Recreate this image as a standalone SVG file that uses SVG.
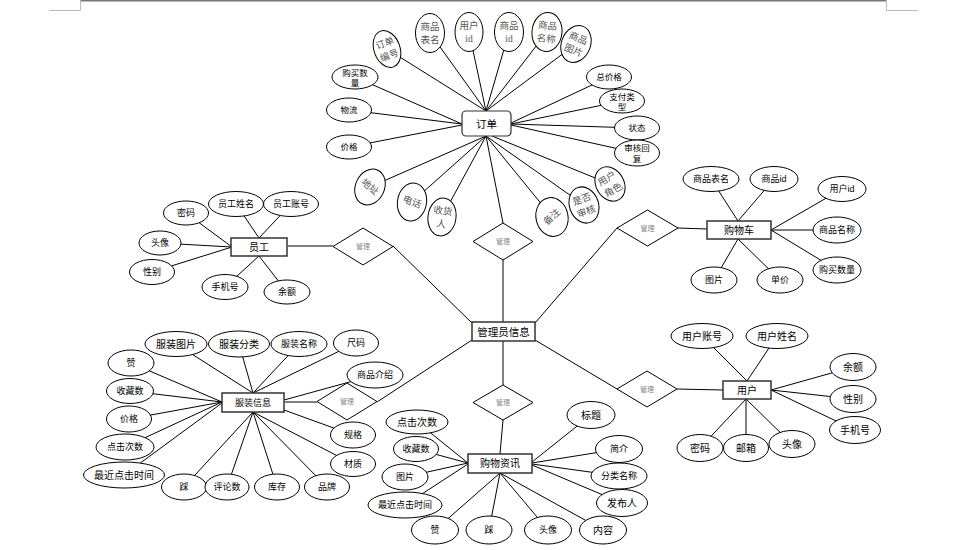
<svg xmlns="http://www.w3.org/2000/svg" width="959" height="550" viewBox="0 0 959 550">
<style>
.c line{stroke:#000;stroke-width:1}
.a{fill:#fff;stroke:#000;stroke-width:1}
.e{fill:#fff;stroke:#333;stroke-width:1.5}
.d{fill:#fff;stroke:#000;stroke-width:1}
text{font-family:"Liberation Sans","Noto Sans CJK SC",sans-serif;text-anchor:middle;dominant-baseline:central;fill:#000}
.t{font-size:10px}
.t9{font-size:9px}
.t8{font-size:8.5px}
.s{font-family:"Liberation Serif","Noto Sans CJK SC",serif;font-size:9.5px;fill:#555}
.m{font-size:7px;fill:#888}
.en{font-size:10.5px}
.pg{stroke:#777;stroke-width:1.5}
.pc{stroke:#bbb;stroke-width:1}
</style>
<g id="page">
<line class="pg" x1="80" y1="0.75" x2="886" y2="0.75"/>
<line class="pc" x1="49" y1="10.5" x2="80.5" y2="10.5"/>
<line class="pc" x1="80.5" y1="0" x2="80.5" y2="10.5"/>
<line class="pc" x1="886.5" y1="0" x2="886.5" y2="10.5"/>
<line class="pc" x1="886.5" y1="10.5" x2="918" y2="10.5"/>
</g>
<g id="connectors" class="c">
<line x1="486" y1="111" x2="387" y2="49"/>
<line x1="486" y1="111" x2="430" y2="33"/>
<line x1="486" y1="111" x2="469" y2="32"/>
<line x1="486" y1="111" x2="509" y2="32"/>
<line x1="486" y1="111" x2="547" y2="32"/>
<line x1="486" y1="111" x2="576" y2="44"/>
<line x1="511" y1="123" x2="609" y2="77"/>
<line x1="511" y1="124" x2="622" y2="101"/>
<line x1="511" y1="124" x2="637" y2="128"/>
<line x1="511" y1="125" x2="637" y2="153"/>
<line x1="462" y1="124" x2="355" y2="77"/>
<line x1="462" y1="124" x2="349" y2="110"/>
<line x1="462" y1="125" x2="349" y2="147"/>
<line x1="486" y1="136" x2="370" y2="187"/>
<line x1="486" y1="136" x2="412" y2="202"/>
<line x1="486" y1="136" x2="442" y2="217"/>
<line x1="486" y1="136" x2="552" y2="217"/>
<line x1="486" y1="136" x2="584" y2="205"/>
<line x1="492" y1="136" x2="610" y2="184"/>
<line x1="486" y1="136" x2="503" y2="223"/>
<line x1="503" y1="260" x2="503" y2="322"/>
<line x1="288" y1="246" x2="333" y2="246"/>
<line x1="393" y1="246" x2="472" y2="323"/>
<line x1="617" y1="228" x2="535" y2="323"/>
<line x1="678" y1="228" x2="707" y2="229"/>
<line x1="285" y1="402" x2="317" y2="402"/>
<line x1="377" y1="402" x2="472" y2="340"/>
<line x1="503" y1="341" x2="503" y2="385"/>
<line x1="503" y1="420" x2="500" y2="454"/>
<line x1="617" y1="389" x2="535" y2="340"/>
<line x1="677" y1="389" x2="723" y2="390"/>
<line x1="259" y1="238" x2="236" y2="204"/>
<line x1="259" y1="238" x2="291" y2="204"/>
<line x1="232" y1="247" x2="186" y2="213"/>
<line x1="232" y1="247" x2="160" y2="243"/>
<line x1="232" y1="247" x2="152" y2="272"/>
<line x1="259" y1="256" x2="225" y2="287"/>
<line x1="259" y1="256" x2="287" y2="292"/>
<line x1="738" y1="221" x2="711" y2="179"/>
<line x1="738" y1="221" x2="774" y2="179"/>
<line x1="771" y1="230" x2="842" y2="189"/>
<line x1="771" y1="230" x2="837" y2="230"/>
<line x1="771" y1="230" x2="837" y2="270"/>
<line x1="738" y1="239" x2="714" y2="280"/>
<line x1="738" y1="239" x2="780" y2="280"/>
<line x1="253" y1="393" x2="176" y2="344"/>
<line x1="253" y1="393" x2="239" y2="344"/>
<line x1="253" y1="393" x2="299" y2="344"/>
<line x1="253" y1="393" x2="356" y2="343"/>
<line x1="284" y1="400" x2="375" y2="375"/>
<line x1="222" y1="402" x2="131" y2="363"/>
<line x1="222" y1="402" x2="130" y2="391"/>
<line x1="222" y1="402" x2="129" y2="419"/>
<line x1="222" y1="402" x2="125" y2="447"/>
<line x1="222" y1="403" x2="124" y2="475"/>
<line x1="253" y1="412" x2="184" y2="487"/>
<line x1="253" y1="412" x2="227" y2="487"/>
<line x1="253" y1="412" x2="277" y2="487"/>
<line x1="253" y1="412" x2="327" y2="487"/>
<line x1="284" y1="410" x2="353" y2="435"/>
<line x1="253" y1="412" x2="353" y2="464"/>
<line x1="468" y1="463" x2="417" y2="422"/>
<line x1="468" y1="463" x2="416" y2="449"/>
<line x1="468" y1="463" x2="405" y2="477"/>
<line x1="468" y1="464" x2="405" y2="505"/>
<line x1="500" y1="473" x2="435" y2="530"/>
<line x1="500" y1="473" x2="489" y2="530"/>
<line x1="500" y1="473" x2="548" y2="530"/>
<line x1="500" y1="473" x2="603" y2="530"/>
<line x1="532" y1="462" x2="591" y2="415"/>
<line x1="532" y1="463" x2="619" y2="449"/>
<line x1="532" y1="464" x2="619" y2="476"/>
<line x1="532" y1="465" x2="622" y2="503"/>
<line x1="747" y1="381" x2="702" y2="336"/>
<line x1="747" y1="381" x2="777" y2="336"/>
<line x1="771" y1="390" x2="853" y2="367"/>
<line x1="771" y1="390" x2="853" y2="399"/>
<line x1="771" y1="390" x2="855" y2="430"/>
<line x1="746" y1="399" x2="700" y2="448"/>
<line x1="746" y1="399" x2="746" y2="448"/>
<line x1="746" y1="399" x2="792" y2="444"/>
</g>

<g id="order">
<rect class="e" x="462" y="111" width="49" height="25" rx="4" style="stroke-width:1.2"/>
<text class="en" x="486.5" y="124">订单</text>
</g>
<g id="order-attrs">
<g transform="translate(387,49) rotate(-20)"><ellipse class="a" rx="13" ry="19"/><text class="s" y="-6">订单</text><text class="s" y="7">编号</text></g>
<g transform="translate(430,33)"><ellipse class="a" rx="14.5" ry="19.5"/><text class="s" y="-6">商品</text><text class="s" y="7">表名</text></g>
<g transform="translate(469,32)"><ellipse class="a" rx="14" ry="19.5"/><text class="s" y="-6">用户</text><text class="s" y="7">id</text></g>
<g transform="translate(509,32)"><ellipse class="a" rx="14.5" ry="19.5"/><text class="s" y="-6">商品</text><text class="s" y="7">id</text></g>
<g transform="translate(547,32) rotate(6)"><ellipse class="a" rx="15" ry="19.5"/><text class="s" y="-6">商品</text><text class="s" y="7">名称</text></g>
<g transform="translate(576,44) rotate(22)"><ellipse class="a" rx="14.5" ry="19"/><text class="s" y="-6">商品</text><text class="s" y="7">图片</text></g>
<g transform="translate(609,77)"><ellipse class="a" rx="22.5" ry="12"/><text class="t8">总价格</text></g>
<g transform="translate(622,101)"><ellipse class="a" rx="22.5" ry="12"/><text class="t8" y="-4.5">支付类</text><text class="t8" y="5.5">型</text></g>
<g transform="translate(637,128)"><ellipse class="a" rx="22.5" ry="12"/><text class="t8">状态</text></g>
<g transform="translate(637,153)"><ellipse class="a" rx="22.5" ry="13"/><text class="t8" y="-5">审核回</text><text class="t8" y="6">复</text></g>
<g transform="translate(355,77)"><ellipse class="a" rx="23" ry="12"/><text class="t8" y="-4.5">购买数</text><text class="t8" y="5.5">量</text></g>
<g transform="translate(349,110)"><ellipse class="a" rx="22.5" ry="12"/><text class="t8">物流</text></g>
<g transform="translate(349,147)"><ellipse class="a" rx="22.5" ry="12"/><text class="t8">价格</text></g>
<g transform="translate(370,187) rotate(25)"><ellipse class="a" rx="14.5" ry="18.5"/><text class="s" transform="rotate(15)">地址</text></g>
<g transform="translate(412,202) rotate(10)"><ellipse class="a" rx="14.5" ry="19"/><text class="s" transform="rotate(12)">电话</text></g>
<g transform="translate(442,217) rotate(8)"><ellipse class="a" rx="14" ry="19"/><text class="s" y="-6">收货</text><text class="s" y="7">人</text></g>
<g transform="translate(552,217) rotate(-12)"><ellipse class="a" rx="16" ry="19.5"/><text class="s" transform="rotate(-30)">备注</text></g>
<g transform="translate(584,205) rotate(-20)"><ellipse class="a" rx="14.5" ry="18.5"/><text class="s" y="-6">是否</text><text class="s" y="7">审核</text></g>
<g transform="translate(610,184) rotate(-30)"><ellipse class="a" rx="14" ry="18"/><text class="s" y="-6">用户</text><text class="s" y="7">角色</text></g>
</g>

<g id="admin">
<rect class="e" x="472" y="322" width="63" height="19"/>
<text class="en" x="503.5" y="331.5">管理员信息</text>
</g>
<g id="manage-order"><polygon class="d" points="503,223 533,241.5 503,260 473,241.5"/><text class="m" x="503" y="241.5">管理</text></g>
<g id="manage-employee"><polygon class="d" points="363,228 393,246.5 363,265 333,246.5"/><text class="m" x="363" y="246.5">管理</text></g>
<g id="manage-cart"><polygon class="d" points="647.5,210 678,228 647.5,246 617,228"/><text class="m" x="647.5" y="228">管理</text></g>
<g id="manage-clothing"><polygon class="d" points="347,383 377,401.5 347,420 317,401.5"/><text class="m" x="347" y="401.5">管理</text></g>
<g id="manage-info"><polygon class="d" points="503,385 533,402.5 503,420 473,402.5"/><text class="m" x="503" y="402.5">管理</text></g>
<g id="manage-user"><polygon class="d" points="647,371 677,389 647,407 617,389"/><text class="m" x="647" y="389">管理</text></g>

<g id="employee">
<rect class="e" x="231" y="238" width="56" height="18"/>
<text class="t" x="259" y="247">员工</text>
</g>
<g id="employee-attrs">
<g transform="translate(186,213)"><ellipse class="a" rx="22.5" ry="12"/><text class="t9">密码</text></g>
<g transform="translate(236,204)"><ellipse class="a" rx="27.5" ry="12.5"/><text class="t9">员工姓名</text></g>
<g transform="translate(291,204)"><ellipse class="a" rx="27.5" ry="12.5"/><text class="t9">员工账号</text></g>
<g transform="translate(160,243)"><ellipse class="a" rx="21" ry="12"/><text class="t9">头像</text></g>
<g transform="translate(152,272)"><ellipse class="a" rx="22.5" ry="12.5"/><text class="t9">性别</text></g>
<g transform="translate(225,287)"><ellipse class="a" rx="23" ry="12.5"/><text class="t9">手机号</text></g>
<g transform="translate(287,292)"><ellipse class="a" rx="23" ry="12"/><text class="t9">余额</text></g>
</g>

<g id="cart">
<rect class="e" x="707" y="221" width="64" height="18"/>
<text class="t" x="739" y="230">购物车</text>
</g>
<g id="cart-attrs">
<g transform="translate(711,179)"><ellipse class="a" rx="28" ry="12.5"/><text class="t9">商品表名</text></g>
<g transform="translate(774,179)"><ellipse class="a" rx="24" ry="12.5"/><text class="t9">商品id</text></g>
<g transform="translate(842,189)"><ellipse class="a" rx="24" ry="12.5"/><text class="t9">用户id</text></g>
<g transform="translate(837,230)"><ellipse class="a" rx="24" ry="13"/><text class="t9">商品名称</text></g>
<g transform="translate(837,270)"><ellipse class="a" rx="24" ry="13"/><text class="t9">购买数量</text></g>
<g transform="translate(714,280)"><ellipse class="a" rx="23" ry="13"/><text class="t9">图片</text></g>
<g transform="translate(780,280)"><ellipse class="a" rx="23" ry="13"/><text class="t9">单价</text></g>
</g>

<g id="clothing">
<rect class="e" x="222" y="393" width="62" height="19"/>
<text class="t9" x="253" y="402.5">服装信息</text>
</g>
<g id="clothing-attrs">
<g transform="translate(176,344)"><ellipse class="a" rx="31" ry="12.5"/><text class="t">服装图片</text></g>
<g transform="translate(239,344)"><ellipse class="a" rx="30.5" ry="13"/><text class="t">服装分类</text></g>
<g transform="translate(299,344)"><ellipse class="a" rx="28" ry="12.5"/><text class="t9">服装名称</text></g>
<g transform="translate(356,343)"><ellipse class="a" rx="22.5" ry="13"/><text class="t9">尺码</text></g>
<g transform="translate(375,375)"><ellipse class="a" rx="28" ry="13"/><text class="t9">商品介绍</text></g>
<g transform="translate(131,363)"><ellipse class="a" rx="23" ry="13"/><text class="t9">赞</text></g>
<g transform="translate(130,391)"><ellipse class="a" rx="23.5" ry="12.5"/><text class="t9">收藏数</text></g>
<g transform="translate(129,419)"><ellipse class="a" rx="22.5" ry="13"/><text class="t9">价格</text></g>
<g transform="translate(125,447)"><ellipse class="a" rx="29" ry="13"/><text class="t9">点击次数</text></g>
<g transform="translate(124,475)"><ellipse class="a" rx="40.5" ry="13"/><text class="t">最近点击时间</text></g>
<g transform="translate(184,487)"><ellipse class="a" rx="22.5" ry="13"/><text class="t9">踩</text></g>
<g transform="translate(227,487)"><ellipse class="a" rx="22" ry="13"/><text class="t9">评论数</text></g>
<g transform="translate(277,487)"><ellipse class="a" rx="22.5" ry="13"/><text class="t9">库存</text></g>
<g transform="translate(327,487)"><ellipse class="a" rx="22.5" ry="13"/><text class="t9">品牌</text></g>
<g transform="translate(353,435)"><ellipse class="a" rx="22.5" ry="13"/><text class="t9">规格</text></g>
<g transform="translate(353,464)"><ellipse class="a" rx="22.5" ry="12.5"/><text class="t9">材质</text></g>
</g>

<g id="info">
<rect class="e" x="468" y="454" width="64" height="19"/>
<text class="t" x="500" y="463.5">购物资讯</text>
</g>
<g id="info-attrs">
<g transform="translate(417,422)"><ellipse class="a" rx="31" ry="12"/><text class="t">点击次数</text></g>
<g transform="translate(416,449)"><ellipse class="a" rx="22.5" ry="12.5"/><text class="t9">收藏数</text></g>
<g transform="translate(405,477)"><ellipse class="a" rx="23" ry="13"/><text class="t9">图片</text></g>
<g transform="translate(405,505)"><ellipse class="a" rx="37" ry="13"/><text class="t9">最近点击时间</text></g>
<g transform="translate(435,530)"><ellipse class="a" rx="23.5" ry="14"/><text class="t9">赞</text></g>
<g transform="translate(489,530)"><ellipse class="a" rx="23" ry="14"/><text class="t9">踩</text></g>
<g transform="translate(548,530)"><ellipse class="a" rx="23.5" ry="14"/><text class="t9">头像</text></g>
<g transform="translate(603,530)"><ellipse class="a" rx="23.5" ry="14"/><text class="t">内容</text></g>
<g transform="translate(591,415)"><ellipse class="a" rx="24" ry="13.5"/><text class="t">标题</text></g>
<g transform="translate(619,449)"><ellipse class="a" rx="23.5" ry="13.5"/><text class="t9">简介</text></g>
<g transform="translate(619,476)"><ellipse class="a" rx="28" ry="13"/><text class="t9">分类名称</text></g>
<g transform="translate(622,503)"><ellipse class="a" rx="25.5" ry="13.5"/><text class="t">发布人</text></g>
</g>

<g id="user">
<rect class="e" x="723" y="381" width="48" height="18"/>
<text class="t" x="747" y="390">用户</text>
</g>
<g id="user-attrs">
<g transform="translate(702,336)"><ellipse class="a" rx="31" ry="12.5"/><text class="t">用户账号</text></g>
<g transform="translate(777,336)"><ellipse class="a" rx="31" ry="12.5"/><text class="t">用户姓名</text></g>
<g transform="translate(853,367)"><ellipse class="a" rx="23" ry="13.5"/><text class="t">余额</text></g>
<g transform="translate(853,399)"><ellipse class="a" rx="23" ry="13.5"/><text class="t">性别</text></g>
<g transform="translate(855,430)"><ellipse class="a" rx="25.5" ry="13.5"/><text class="t">手机号</text></g>
<g transform="translate(700,448)"><ellipse class="a" rx="23" ry="13.5"/><text class="t">密码</text></g>
<g transform="translate(746,448)"><ellipse class="a" rx="22.5" ry="13.5"/><text class="t">邮箱</text></g>
<g transform="translate(792,444)"><ellipse class="a" rx="23" ry="13.5"/><text class="t">头像</text></g>
</g>
</svg>
